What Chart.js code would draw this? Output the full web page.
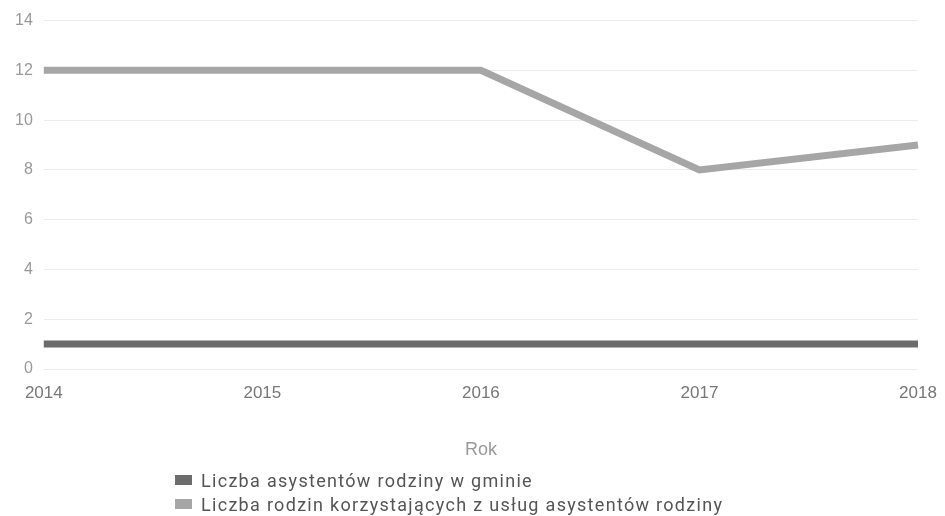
<!DOCTYPE html>
<html>
<head>
<meta charset="utf-8">
<script src="https://cdn.jsdelivr.net/npm/chart.js@4/dist/chart.umd.min.js"></script>
<style>
  body { margin: 0; background: #fff; font-family: Roboto, "Liberation Sans", sans-serif; }
  #wrap { position: relative; width: 945px; height: 470px; }
  #legend { position: absolute; left: 175px; top: 469px; color: #555; font-size: 18px; line-height: 24px; letter-spacing: 1.3px; }
  #legend .sw { display: inline-block; width: 17px; height: 10px; margin-right: 9px; vertical-align: 2px; }
</style>
</head>
<body>
<div id="wrap"><canvas id="chart"></canvas></div>
<div id="legend"></div>
<script>
const years = ['2014', '2015', '2016', '2017', '2018']
const asystenci = [1, 1, 1, 1, 1]
const rodziny = [12, 12, 12, 8, 9]
const names = ['Liczba asystentów rodziny w gminie', 'Liczba rodzin korzystających z usług asystentów rodziny']
const colors = ['#6c6c6c', '#a6a6a6']

const data = {
  labels: years,
  datasets: [
    { label: names[0], data: asystenci, borderColor: colors[0], backgroundColor: colors[0], borderWidth: 7, pointRadius: 0, tension: 0 },
    { label: names[1], data: rodziny, borderColor: colors[1], backgroundColor: colors[1], borderWidth: 7, pointRadius: 0, tension: 0 }
  ]
}

const options = {
  responsive: false,
  animation: false,
  layout: { padding: { left: 4, right: 27, top: 10, bottom: 9 } },
  plugins: { legend: { display: false }, tooltip: { enabled: false } },
  scales: {
    x: {
      // tickLength zamiast ticks.padding, bo padding poszerza margines z prawej
      grid: { display: false, drawTicks: true, tickLength: 14 },
      border: { display: false },
      ticks: { color: '#777', font: { size: 17 }, padding: 0, maxRotation: 0 },
      title: { display: true, text: 'Rok', color: '#999', font: { size: 18 }, padding: { top: 36, bottom: 0 } }
    },
    y: {
      min: 0, max: 14,
      grid: { color: '#ececec', drawTicks: false },
      border: { display: false },
      ticks: { stepSize: 2, color: '#999', font: { size: 16 }, padding: 11 }
    }
  }
}

const cv = document.getElementById('chart')
cv.width = 945
cv.height = 470
const chart = new Chart(cv, { type: 'line', data, options })

// legenda jako html, pozycje jedna pod drugą
let html = ''
for (let ds of chart.data.datasets) {
  html += `<div><span class="sw" style="background:${ds.borderColor}"></span>${ds.label}</div>`
}
document.getElementById('legend').innerHTML = html
</script>
</body>
</html>
